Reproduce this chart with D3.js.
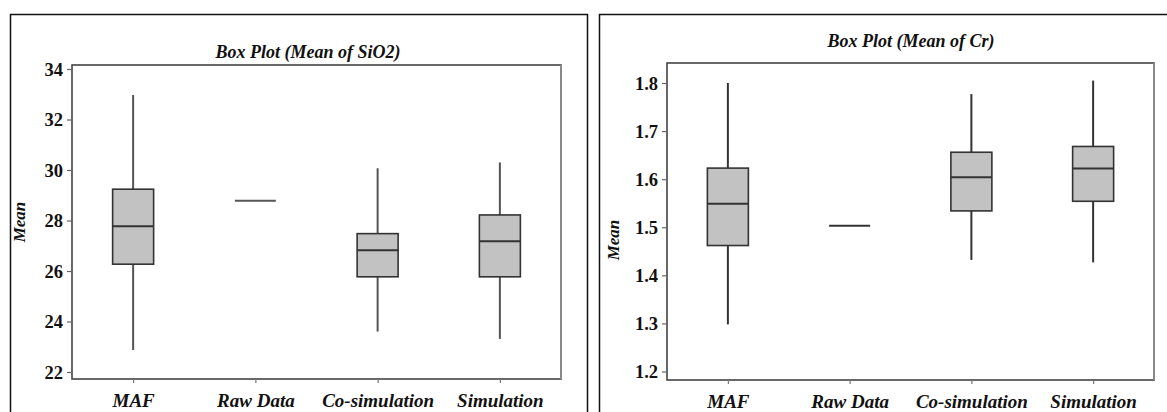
<!DOCTYPE html>
<html>
<head>
<meta charset="utf-8">
<script src="https://cdn.jsdelivr.net/npm/d3@7"></script>
<style>
  html, body { margin: 0; padding: 0; background: #fff; }
  svg { display: block; }
  text { font-family: "Liberation Serif", "Times New Roman", serif; font-weight: bold; fill: #111; }
</style>
</head>
<body>
<svg id="chart" width="1167" height="412"></svg>
<script>
const categories = ["MAF", "Raw Data", "Co-simulation", "Simulation"];

// SiO2 box stats per category
const sio2Low    = [22.87, 28.78, 23.60, 23.31];
const sio2Q1     = [26.27, 28.78, 25.77, 25.77];
const sio2Median = [27.77, 28.78, 26.82, 27.18];
const sio2Q3     = [29.24, 28.78, 27.48, 28.22];
const sio2High   = [32.97, 28.78, 30.07, 30.30];
const sio2Ticks  = [22, 24, 26, 28, 30, 32, 34];

// Cr box stats per category
const crLow    = [1.298, 1.503, 1.432, 1.427];
const crQ1     = [1.462, 1.503, 1.534, 1.554];
const crMedian = [1.549, 1.503, 1.604, 1.622];
const crQ3     = [1.623, 1.503, 1.656, 1.668];
const crHigh   = [1.800, 1.503, 1.777, 1.805];
const crTicks  = [1.2, 1.3, 1.4, 1.5, 1.6, 1.7, 1.8];

const FONT = "'Liberation Serif', 'Times New Roman', serif";
const svg = d3.select("#chart");

// outer panel frames
svg.append("path")
  .attr("d", "M10.5,412 V14.5 H587.5 V412")
  .attr("fill", "none").attr("stroke", "#111").attr("stroke-width", 1.5);
svg.append("path")
  .attr("d", "M599.5,412 V14.5 H1167")
  .attr("fill", "none").attr("stroke", "#111").attr("stroke-width", 1.5);

function drawPanel(cfg) {
  const g = svg.append("g");
  const x = d3.scalePoint().domain(categories).range([cfg.left, cfg.right]).padding(0.5);
  const y = d3.scaleLinear().domain(cfg.domain).range(cfg.yRange);
  const rows = categories.map((c, i) => ({
    c, low: cfg.low[i], q1: cfg.q1[i], med: cfg.median[i], q3: cfg.q3[i], high: cfg.high[i]
  }));
  const bw = 41;

  // plot frame
  g.append("rect")
    .attr("x", cfg.left).attr("y", cfg.top)
    .attr("width", cfg.right - cfg.left).attr("height", cfg.bottom - cfg.top)
    .attr("fill", "none").attr("stroke", "#444").attr("stroke-width", 1.6);
  g.append("line")
    .attr("x1", cfg.right).attr("x2", cfg.right).attr("y1", cfg.top).attr("y2", cfg.bottom)
    .attr("stroke", "#888").attr("stroke-width", 2);

  // y axis
  const ya = g.append("g").attr("transform", `translate(${cfg.left},0)`)
    .call(d3.axisLeft(y).tickValues(cfg.ticks).tickFormat(cfg.fmt).tickSize(5).tickPadding(4));
  ya.select(".domain").remove();
  ya.selectAll(".tick line").attr("stroke", "#666").attr("stroke-width", 1.2);
  ya.selectAll(".tick text")
    .attr("font-family", FONT).attr("font-weight", "bold")
    .attr("font-size", 18.5).attr("fill", "#111").attr("dy", "0.34em");

  // x axis
  const xa = g.append("g").attr("transform", `translate(0,${cfg.bottom})`)
    .call(d3.axisBottom(x).tickSize(4).tickPadding(11));
  xa.select(".domain").remove();
  xa.selectAll(".tick line").attr("stroke", "#777").attr("stroke-width", 1.2);
  xa.selectAll(".tick text")
    .attr("font-family", FONT).attr("font-weight", "bold").attr("font-style", "italic")
    .attr("font-size", 19).attr("fill", "#111").attr("dy", "0.71em");

  // whiskers
  g.selectAll(".whisker").data(rows.filter(d => d.high > d.low)).join("line")
    .attr("class", "whisker")
    .attr("x1", d => x(d.c)).attr("x2", d => x(d.c))
    .attr("y1", d => y(d.high)).attr("y2", d => y(d.low))
    .attr("stroke", cfg.whisker).attr("stroke-width", 2);

  // boxes
  const boxes = rows.filter(d => d.q3 > d.q1);
  g.selectAll(".box").data(boxes).join("rect")
    .attr("class", "box")
    .attr("x", d => x(d.c) - bw / 2).attr("width", bw)
    .attr("y", d => y(d.q3)).attr("height", d => y(d.q1) - y(d.q3))
    .attr("fill", "#c2c2c2").attr("stroke", "#333").attr("stroke-width", 1.6);

  // medians (and single-value lines)
  g.selectAll(".median").data(rows).join("line")
    .attr("class", "median")
    .attr("x1", d => x(d.c) - bw / 2).attr("x2", d => x(d.c) + bw / 2)
    .attr("y1", d => y(d.med)).attr("y2", d => y(d.med))
    .attr("stroke", d => d.q3 > d.q1 ? "#333" : cfg.whisker).attr("stroke-width", 2);

  // title
  g.append("text")
    .attr("x", cfg.titleX).attr("y", cfg.titleY)
    .attr("text-anchor", "middle")
    .attr("font-family", FONT).attr("font-weight", "bold")
    .attr("font-size", 18).attr("font-style", "italic")
    .text(cfg.title);

  // y label
  g.append("text")
    .attr("transform", `translate(${cfg.yLabelX},${cfg.yLabelY}) rotate(-90)`)
    .attr("text-anchor", "middle")
    .attr("font-family", FONT).attr("font-weight", "bold")
    .attr("font-size", 17).attr("font-style", "italic")
    .text("Mean");
}

drawPanel({
  left: 72, right: 561, top: 65, bottom: 379,
  domain: [22, 34], yRange: [372, 69],
  ticks: sio2Ticks, fmt: d3.format("d"),
  low: sio2Low, q1: sio2Q1, median: sio2Median, q3: sio2Q3, high: sio2High,
  whisker: "#555",
  title: "Box Plot (Mean of SiO2)", titleX: 308, titleY: 58,
  yLabelX: 25, yLabelY: 222
});

drawPanel({
  left: 667, right: 1154, top: 63, bottom: 380,
  domain: [1.2, 1.8], yRange: [371.5, 83],
  ticks: crTicks, fmt: d3.format(".1f"),
  low: crLow, q1: crQ1, median: crMedian, q3: crQ3, high: crHigh,
  whisker: "#333",
  title: "Box Plot (Mean of Cr)", titleX: 911, titleY: 47,
  yLabelX: 619, yLabelY: 240
});
</script>
</body>
</html>
